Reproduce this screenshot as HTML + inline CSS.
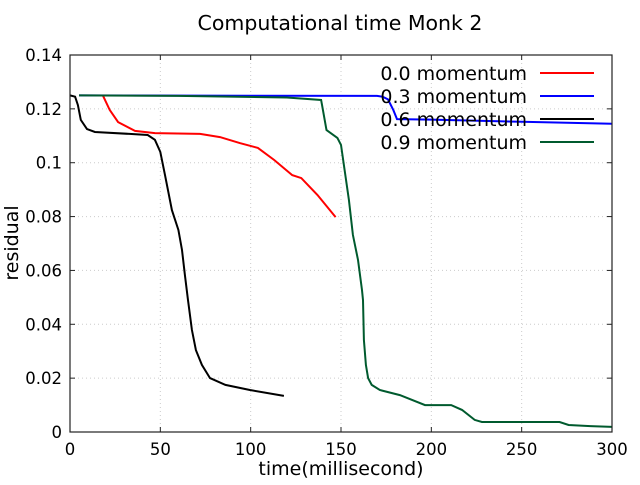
<!DOCTYPE html>
<html><head><meta charset="utf-8"><style>
body{margin:0;background:#fff}
svg{font-family:"DejaVu Sans","Liberation Sans",sans-serif}
</style></head><body>
<svg id="c" width="640" height="480">
<rect width="640" height="480" fill="#fff"/>
<text x="340" y="30" text-anchor="middle" font-size="20.5">Computational time Monk 2</text>
<g id="grid"></g>
<g id="series"></g>
<rect x="70" y="55" width="542" height="377" fill="none" stroke="#222" stroke-width="1.2"/>
<g id="ticks"></g>
<text x="341" y="475" text-anchor="middle" font-size="19">time(millisecond)</text>
<text transform="translate(18,243) rotate(-90)" text-anchor="middle" font-size="19">residual</text>
<g id="legend"></g>
</svg>
<script>
const xTicks=[0,50,100,150,200,250,300];
const yTicks=[0,0.02,0.04,0.06,0.08,0.1,0.12,0.14];
const yTickLabels=["0","0.02","0.04","0.06","0.08","0.1","0.12","0.14"];
const seriesNames=["0.0 momentum","0.3 momentum","0.6 momentum","0.9 momentum"];
const seriesColors=["#ff0000","#0000ff","#000000","#005a2e"];
const s00x=[18.3,22,26.6,36,47,72,83,94,104,113,123,128,137,147];
const s00y=[0.1248,0.1196,0.1151,0.1118,0.111,0.1107,0.1095,0.1073,0.1055,0.101,0.0954,0.0943,0.088,0.0798];
const s03x=[5,100,170,173,176,179,181,200,250,300];
const s03y=[0.125,0.1249,0.1248,0.1245,0.1235,0.1195,0.1162,0.116,0.1152,0.1145];
const s06x=[0,2.8,4.4,6,9.4,13.8,33,43,47,50,52.6,56.4,60,62,63.6,65.3,67.5,69.7,73,77.5,86,99.6,118.4];
const s06y=[0.125,0.1245,0.1214,0.1159,0.1125,0.1114,0.1107,0.1103,0.1085,0.104,0.0954,0.0824,0.075,0.0676,0.0583,0.049,0.0379,0.0304,0.0249,0.02,0.0175,0.0156,0.0134];
const s09x=[5,60,120,139,139.5,142,148,150,152,154.4,156.6,159.4,161.6,162.2,162.7,163.8,165,167,171.5,182.6,196.5,211,217,224,228,271,276,288,300];
const s09y=[0.125,0.1248,0.1242,0.1233,0.1215,0.1121,0.1092,0.1066,0.0973,0.0862,0.0732,0.0639,0.0527,0.049,0.0342,0.0249,0.02,0.0175,0.0156,0.0137,0.01,0.01,0.0082,0.0045,0.0037,0.0037,0.0026,0.0022,0.0019];
const allX=[s00x,s03x,s06x,s09x], allY=[s00y,s03y,s06y,s09y];
const X0=70,X1=612,Y0=432,Y1=55;
const sx=v=>X0+(v-0)/(300-0)*(X1-X0);
const sy=v=>Y0-(v-0)/(0.14-0)*(Y0-Y1);
const NS="http://www.w3.org/2000/svg";
function mk(t,a,p){const e=document.createElementNS(NS,t);for(const k in a)e.setAttribute(k,a[k]);p.appendChild(e);return e;}
const grid=document.getElementById('grid'),ticks=document.getElementById('ticks');
xTicks.forEach((v,i)=>{
 const x=sx(v);
 if(i>0&&i<xTicks.length-1){const g=mk('line',{x1:x,x2:x,y1:Y1,y2:Y0,stroke:'#ccc','stroke-dasharray':'1,3'},grid);
 }
 mk('line',{x1:x,x2:x,y1:Y0,y2:Y0-5,stroke:'#222'},ticks);mk('line',{x1:x,x2:x,y1:Y1,y2:Y1+5,stroke:'#222'},ticks);
 const t=mk('text',{x:x,y:455,'text-anchor':'middle','font-size':16.5},ticks);t.textContent=v;
 
});
yTicks.forEach((v,i)=>{
 const y=sy(v);
 if(i>0&&i<yTicks.length-1){const g=mk('line',{x1:X0,x2:X1,y1:y,y2:y,stroke:'#ccc','stroke-dasharray':'1,3'},grid);
 }
 mk('line',{x1:X0,x2:X0+5,y1:y,y2:y,stroke:'#222'},ticks);mk('line',{x1:X1,x2:X1-5,y1:y,y2:y,stroke:'#222'},ticks);
 const t=mk('text',{x:62,y:y+6,'text-anchor':'end','font-size':16.5},ticks);t.textContent=yTickLabels[i];
 
});
const ser=document.getElementById('series');
[0,1,2,3].forEach(i=>{
 const d=allX[i].map((x,j)=>(j?'L':'M')+sx(x).toFixed(1)+','+sy(allY[i][j]).toFixed(1)).join(' ');
 const p=mk('path',{d:d,fill:'none',stroke:seriesColors[i],'stroke-width':2},ser);
 
});
const lg=document.getElementById('legend');
seriesNames.forEach((n,i)=>{
 const y=73+i*23;
 const t=mk('text',{x:527,y:y+7,'text-anchor':'end','font-size':19},lg);t.textContent=n;
 
 const l=mk('line',{x1:540,x2:594,y1:y,y2:y,stroke:seriesColors[i],'stroke-width':2},lg);
 
});
</script>
</body></html>
